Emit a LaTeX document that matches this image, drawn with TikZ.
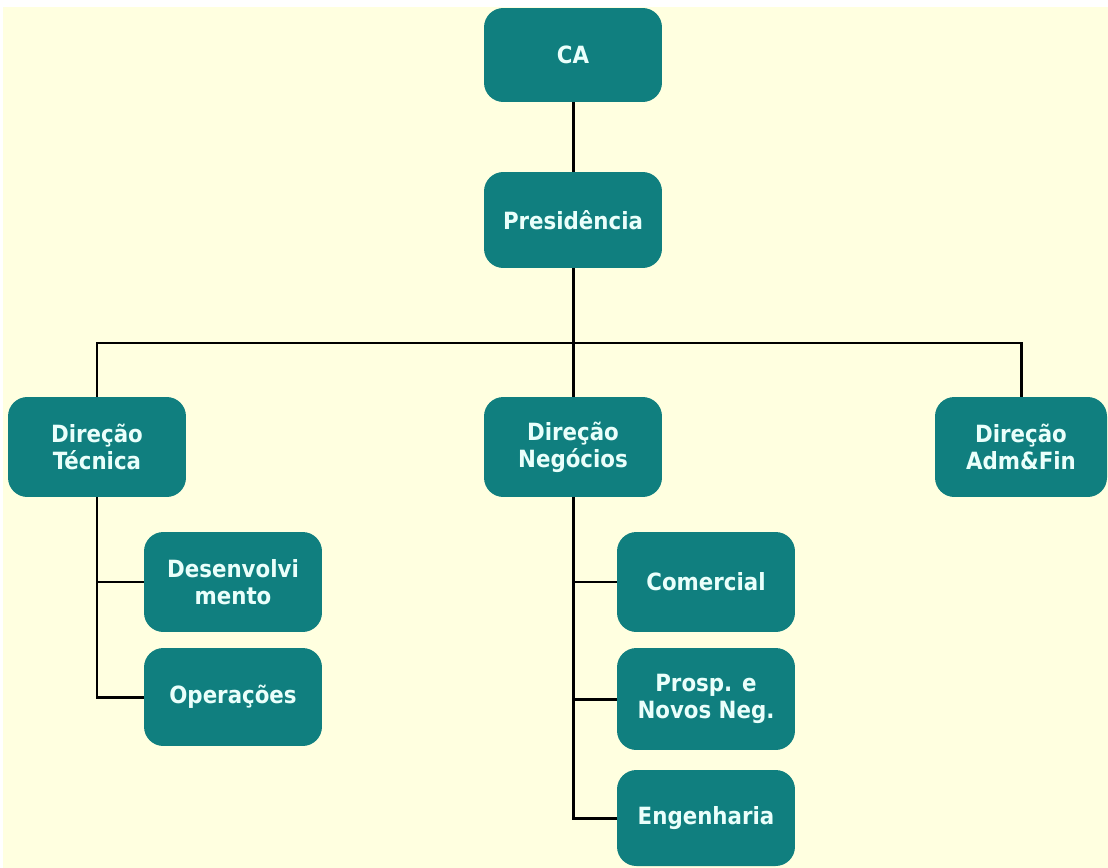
\documentclass[tikz,border=0pt]{standalone}
\usepackage{fontspec}
\newfontfamily\orgfont{DejaVu Sans Condensed}
\usetikzlibrary{positioning}
\definecolor{orgbg}{HTML}{FFFFE0}
\definecolor{orgteal}{HTML}{107F7F}
\definecolor{orgtext}{HTML}{EAFFFB}

\begin{document}
\begin{tikzpicture}[
    x=0.02cm, y=-0.02cm,
    orgbox/.style={fill=orgteal, text=orgtext, rounded corners=11pt,
        minimum width=3.56cm, minimum height=2cm, align=center, inner sep=2pt,
        font=\orgfont\bfseries\fontsize{13.5}{15.5}\selectfont},
    link/.style={draw=black, line width=1.7pt}
]
% background
\useasboundingbox (0,0) rectangle (1108,868);
\fill[white] (0,0) rectangle (1108,868);
\fill[orgbg] (3,7) rectangle (1108,868);

% boxes
\node[orgbox, minimum height=1.88cm] (ca) at (573,55) {CA};
\node[orgbox, minimum height=1.92cm] (pres) at (573,220) {Presidência};
\node[orgbox] (dt) at (97,447) {Direção\\Técnica};
\node[orgbox] (dn) at (573,447) {Direção\\Negócios};
\node[orgbox, minimum width=3.44cm] (da) at (1021,447) {Direção\\Adm\&Fin};
\node[orgbox] (dev) at (233,582) {Desenvolvi\\mento};
\node[orgbox, minimum height=1.96cm] (ope) at (233,697) {Operações};
\node[orgbox] (com) at (706,582) {Comercial};
\node[orgbox, minimum height=2.04cm] (pro) at (706,699) {Prosp. e\\Novos Neg.};
\node[orgbox, minimum height=1.92cm] (eng) at (706,818) {Engenharia};
\coordinate (bus) at (573,343);

% connectors
\draw[link] (ca) -- (pres);
\draw[link] (pres) -- (bus);
\draw[link] (dt.north) |- (bus) -| (da.north);
\draw[link] (bus) -- (dn.north);
\draw[link] (dt.south) |- (ope.west);
\draw[link] (dt.south |- dev.west) -- (dev.west);
\draw[link] (dn.south) |- (eng.west);
\draw[link] (dn.south |- com.west) -- (com.west);
\draw[link] (dn.south |- pro.west) -- (pro.west);
\end{tikzpicture}
\end{document}
